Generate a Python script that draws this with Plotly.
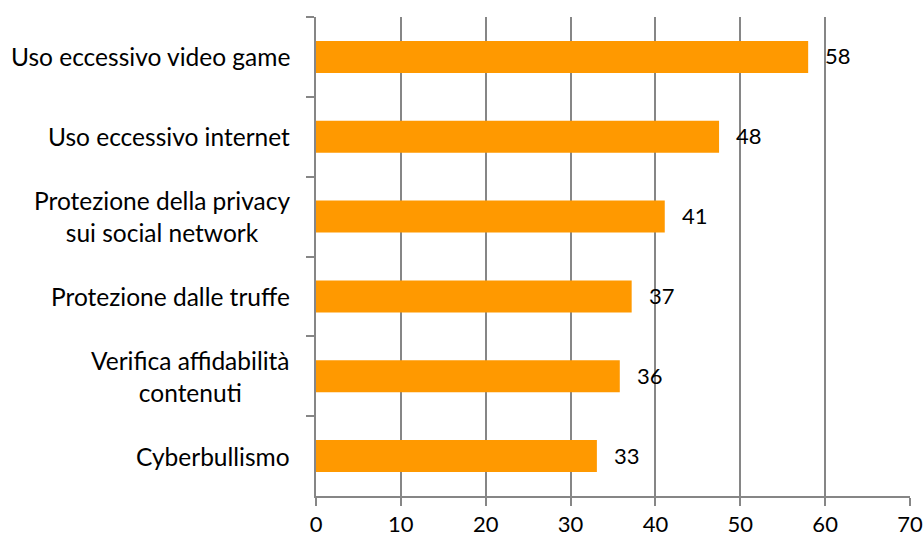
import plotly.graph_objects as go

# Survey topics (top to bottom) and their percentages
categories = [
    "Uso eccessivo video game",
    "Uso eccessivo internet",
    "Protezione della privacy<br>sui social network",
    "Protezione dalle truffe",
    "Verifica affidabilità<br>contenuti",
    "Cyberbullismo",
]
values = [58.0, 47.5, 41.1, 37.2, 35.8, 33.1]
x_ticks = [0, 10, 20, 30, 40, 50, 60, 70]

FONT = "Lato"
GRID = "#868686"
BAR = "#FF9900"

fig = go.Figure(
    go.Bar(
        x=values,
        y=categories,
        orientation="h",
        marker=dict(color=BAR, line=dict(width=0)),
        width=0.4,
        hoverinfo="x+y",
    )
)

# Value labels to the right of each bar
for cat, v in zip(categories, values):
    fig.add_annotation(
        x=v, y=cat, xref="x", yref="y",
        text=f"{v:.0f}", showarrow=False,
        xanchor="left", yanchor="middle", xshift=15, yshift=1,
        font=dict(family=FONT, size=22, color="#000000"),
    )

# Category labels, centred multi-line text to the left of the axis
for cat in categories:
    fig.add_annotation(
        x=0, y=cat, xref="paper", yref="y",
        text=cat, showarrow=False, align="center",
        xanchor="right", yanchor="middle", xshift=-24,
        font=dict(family=FONT, size=24.5, color="#000000"),
    )

fig.update_xaxes(
    range=[0, 70],
    tickvals=x_ticks,
    showgrid=True, gridcolor=GRID, gridwidth=1.5,
    showline=True, linecolor=GRID, linewidth=1.5,
    ticks="outside", ticklen=8, tickcolor=GRID, tickwidth=1.5,
    tickfont=dict(family=FONT, size=22, color="#000000"),
    zeroline=False, fixedrange=True, automargin=False,
)
fig.update_yaxes(
    autorange="reversed",
    tickson="boundaries",
    showticklabels=False,
    showgrid=False,
    showline=True, linecolor=GRID, linewidth=1.5,
    ticks="outside", ticklen=8, tickcolor=GRID, tickwidth=1.5,
    fixedrange=True, automargin=False,
)

fig.update_layout(
    width=924, height=539,
    margin=dict(l=316, r=14, t=17, b=43),
    plot_bgcolor="#FFFFFF", paper_bgcolor="#FFFFFF",
    showlegend=False,
    bargap=0.6,
)

fig.write_html("out.html")
